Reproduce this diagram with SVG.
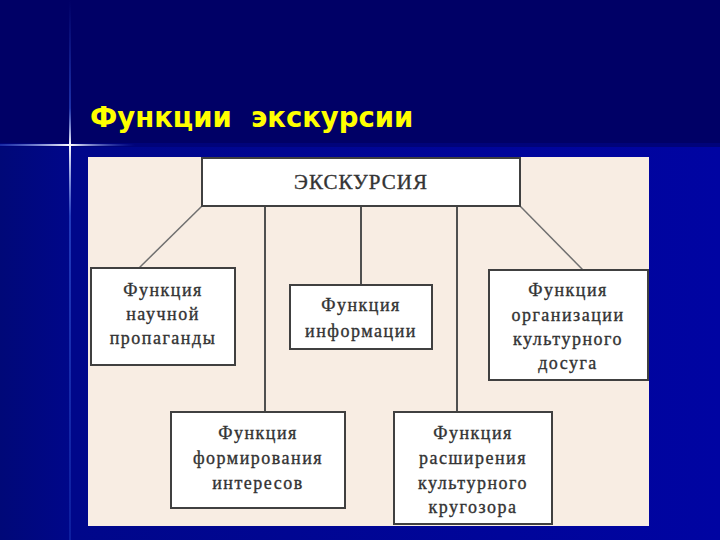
<svg xmlns="http://www.w3.org/2000/svg" width="720" height="540" viewBox="0 0 720 540">
<defs>
<linearGradient id="lower" x1="0" y1="0" x2="1" y2="0">
<stop offset="0" stop-color="#000878"/>
<stop offset="0.1" stop-color="#00078a"/>
<stop offset="1" stop-color="#0004a2"/>
</linearGradient>
<linearGradient id="vline" x1="0" y1="0" x2="0" y2="540" gradientUnits="userSpaceOnUse">
<stop offset="0" stop-color="#3050d0" stop-opacity="0"/>
<stop offset="0.2" stop-color="#3050d0" stop-opacity="0.6"/>
<stop offset="0.268" stop-color="#ffffff" stop-opacity="1"/>
<stop offset="0.4" stop-color="#3050d0" stop-opacity="0.7"/>
<stop offset="1" stop-color="#2040c0" stop-opacity="0.4"/>
</linearGradient>
<linearGradient id="hline" x1="0" y1="0" x2="135" y2="0" gradientUnits="userSpaceOnUse">
<stop offset="0" stop-color="#3050d0" stop-opacity="0.5"/>
<stop offset="0.52" stop-color="#ffffff" stop-opacity="1"/>
<stop offset="1" stop-color="#3050d0" stop-opacity="0"/>
</linearGradient>
<style>
.box{fill:#ffffff;stroke:#404040;stroke-width:2}
.lbl{font-family:"Liberation Serif","DejaVu Serif",serif;font-size:18px;fill:#333333;stroke:#333333;stroke-width:0.35;text-anchor:middle;letter-spacing:1.5px}
.top{font-family:"Liberation Serif","DejaVu Serif",serif;font-size:21px;fill:#333333;stroke:#333333;stroke-width:0.35;text-anchor:middle;letter-spacing:1px}
.ln{stroke:#505050;stroke-width:2;fill:none}
.dg{stroke:#707070;stroke-width:1.5;fill:none}
</style>
</defs>
<rect x="0" y="0" width="720" height="540" fill="url(#lower)"/>
<rect x="0" y="0" width="720" height="145" fill="#000066"/>
<rect x="0" y="143" width="720" height="4" fill="#00037a"/>
<rect x="69" y="0" width="2" height="540" fill="url(#vline)"/>
<rect x="0" y="144" width="135" height="2" fill="url(#hline)"/>
<text x="90" y="127" font-family="'DejaVu Sans','Liberation Sans',sans-serif" font-weight="bold" font-size="27.5" fill="#ffff00" xml:space="preserve">Функции  экскурсии</text>
<rect x="88" y="157" width="561" height="369" fill="#f8ede3"/>
<g id="connectors">
<line class="dg" x1="202" y1="206" x2="139" y2="268"/>
<line class="dg" x1="520" y1="206" x2="583" y2="270"/>
<line class="ln" x1="265" y1="206" x2="265" y2="412"/>
<line class="ln" x1="361" y1="206" x2="361" y2="285"/>
<line class="ln" x1="457" y1="206" x2="457" y2="412"/>
</g>
<g id="n-excursion">
<rect class="box" x="202" y="158" width="318" height="48"/>
<text class="top" x="361" y="189">ЭКСКУРСИЯ</text>
</g>
<g id="n-propaganda">
<rect class="box" x="91" y="268" width="144" height="97"/>
<text class="lbl" x="163" y="296">Функция</text>
<text class="lbl" x="163" y="320">научной</text>
<text class="lbl" x="163" y="344">пропаганды</text>
</g>
<g id="n-information">
<rect class="box" x="290" y="285" width="142" height="64"/>
<text class="lbl" x="361" y="311">Функция</text>
<text class="lbl" x="361" y="337">информации</text>
</g>
<g id="n-leisure">
<rect class="box" x="489" y="270" width="159" height="110"/>
<text class="lbl" x="568" y="296">Функция</text>
<text class="lbl" x="568" y="321">организации</text>
<text class="lbl" x="568" y="345">культурного</text>
<text class="lbl" x="568" y="369">досуга</text>
</g>
<g id="n-interests">
<rect class="box" x="171" y="412" width="174" height="96"/>
<text class="lbl" x="258" y="439">Функция</text>
<text class="lbl" x="258" y="464">формирования</text>
<text class="lbl" x="258" y="489">интересов</text>
</g>
<g id="n-outlook">
<rect class="box" x="394" y="412" width="158" height="112"/>
<text class="lbl" x="473" y="439">Функция</text>
<text class="lbl" x="473" y="464">расширения</text>
<text class="lbl" x="473" y="489">культурного</text>
<text class="lbl" x="473" y="513">кругозора</text>
</g>
</svg>
